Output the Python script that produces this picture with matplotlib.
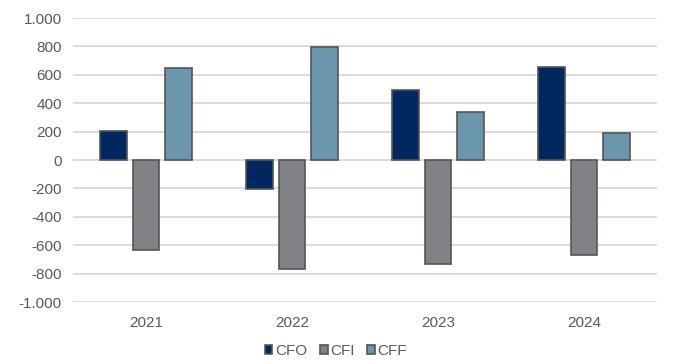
import numpy as np
import matplotlib.pyplot as plt
from matplotlib.ticker import FuncFormatter

plt.rcParams['font.family'] = ['Liberation Sans', 'DejaVu Sans']

# data
years = ['2021', '2022', '2023', '2024']
cfo = [205, -205, 495, 655]
cfi = [-635, -770, -730, -670]
cff = [645, 795, 335, 190]

series = [('CFO', cfo, '#00285e'), ('CFI', cfi, '#808285'), ('CFF', cff, '#6b96ab')]

fig = plt.figure(figsize=(6.97, 3.61), dpi=100)
ax = fig.add_axes([73 / 697, 1 - 302 / 361, 584 / 697, 284 / 361])

x = np.arange(len(years))
width = 0.18
step = 0.222
for i, (name, vals, color) in enumerate(series):
    ax.bar(x + (i - 1) * step, vals, width, color=color, edgecolor='#555555',
           linewidth=1.2, label=name, zorder=3)

ax.set_xlim(-0.5, 3.5)
ax.set_ylim(-1000, 1000)
ax.set_yticks(np.arange(-1000, 1001, 200))
ax.yaxis.set_major_formatter(FuncFormatter(lambda v, p: f'{v:,.0f}'.replace(',', '.')))
ax.set_xticks(x)
ax.set_xticklabels(years)

ax.grid(axis='y', color='#d9d9d9', linewidth=1.3, zorder=0)
for s in ax.spines.values():
    s.set_visible(False)
ax.tick_params(length=0, labelsize=11, colors='#595959', pad=8)
ax.tick_params(axis='x', pad=10)

ax.legend(loc='upper center', bbox_to_anchor=(0.45, -0.148), ncol=3, frameon=False,
          fontsize=11, labelcolor='#595959', handlelength=0.5, handleheight=0.5,
          handletextpad=0.15, columnspacing=0.85, borderaxespad=0, borderpad=0)

fig.savefig('out.png', dpi=100)
